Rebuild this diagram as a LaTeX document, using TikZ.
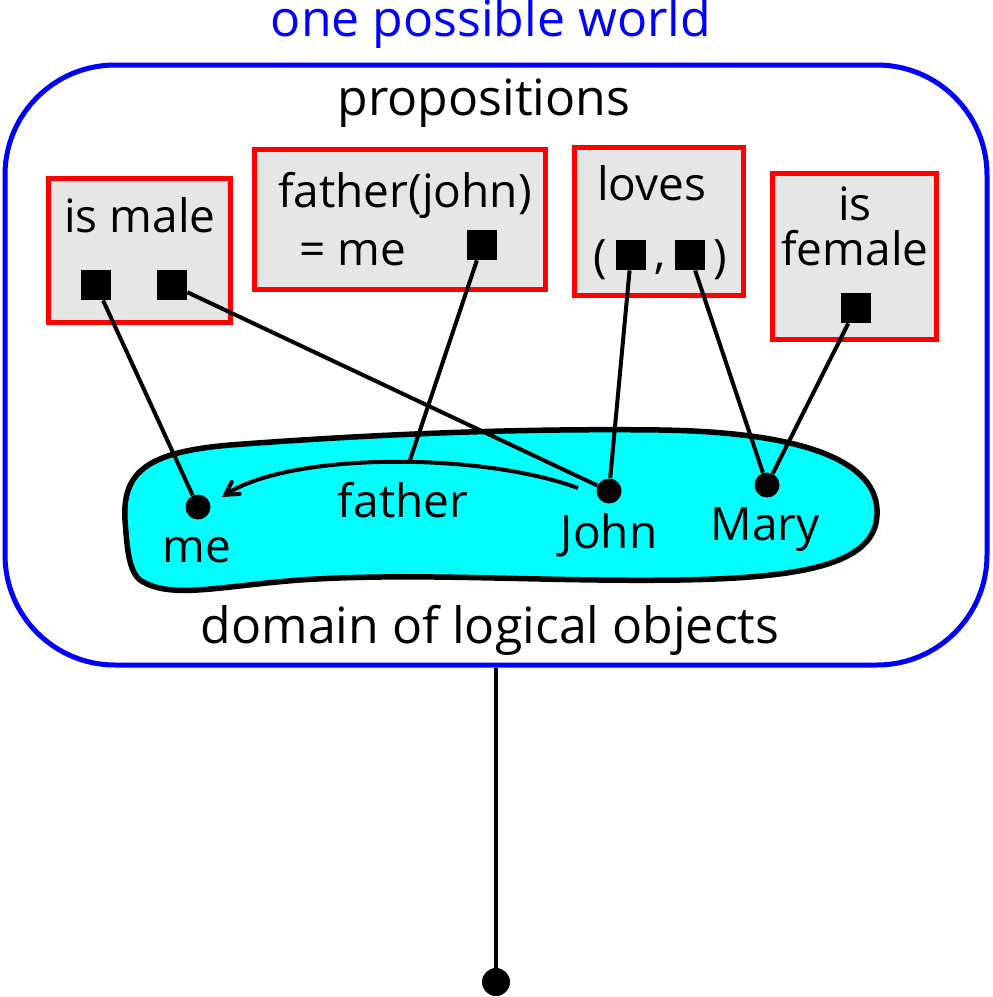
\documentclass[tikz,border=0pt]{standalone}
\usepackage{fontspec}
\setmainfont{Open Sans}
\usepackage{xcolor}
\usetikzlibrary{positioning}
\usetikzlibrary{arrows}
\definecolor{boxgray}{HTML}{E6E6E6}
\definecolor{domaincyan}{RGB}{0,255,255}
\definecolor{worldblue}{RGB}{0,0,255}
\definecolor{propred}{RGB}{255,0,0}

\begin{document}
\begin{tikzpicture}[x=0.5pt,y=-0.5pt]
    \tikzset{world/.style={draw=worldblue,line width=2.5pt,rounded corners=55pt,minimum width=491pt,minimum height=300pt}}
    \tikzset{prop/.style={draw=propred,fill=boxgray,line width=2.5pt,inner sep=0pt}}
    \tikzset{slot/.style={shape=rectangle,fill=black,inner sep=0pt,minimum size=15pt}}
    \tikzset{obj/.style={shape=circle,fill=black,inner sep=0pt,minimum size=12.5pt}}
    \tikzset{txt/.style={anchor=base,inner sep=0pt,font=\fontsize{23}{27}\selectfont}}
    \tikzset{big/.style={txt,font=\fontsize{25}{29}\selectfont}}
    \tikzset{edge/.style={line width=2pt}}
    \tikzset{fun/.style={->,>=angle 60,line width=2pt}}
    \tikzset{blob/.style={draw=black,fill=domaincyan,line width=2.75pt}}
    \useasboundingbox (0,0) rectangle (992,997);

    \node[big,text=worldblue] (title) at (491,36) {one possible world};
    \node[world] (world) at (496,365) {};
    \node[big] (props) at (484,115) {propositions};

    % the proposition boxes
    \node[prop,minimum width=91pt,minimum height=72pt] (male) at (139,250.5) {};
    \node[prop,minimum width=145.5pt,minimum height=70pt] (fj) at (400,219.5) {};
    \node[prop,minimum width=84.5pt,minimum height=74pt] (loves) at (659,221.5) {};
    \node[prop,minimum width=82pt,minimum height=83pt] (female) at (854.5,256.5) {};

    \node[txt] (maletxt) at (140,232) {is male};
    \node[txt] (fjtxt) at (405,207) {father(john)};
    \node[txt] (metxt) at (353,265) {= me};
    \node[txt] (lovestxt) at (652,200) {loves};
    \node[txt] (lp) at (600,272) {(};
    \node[txt] (comma) at (660,268) {,};
    \node[txt] (rp) at (720,272) {)};
    \node[txt] (istxt) at (855,220) {is};
    \node[txt] (femtxt) at (855,265) {female};

    \node[slot] (m1) at (96,285) {};
    \node[slot] (m2) at (172,285) {};
    \node[slot] (f1) at (482,245) {};
    \node[slot] (l1) at (631,255) {};
    \node[slot] (l2) at (690,255) {};
    \node[slot] (w1) at (856,308) {};

    % domain of objects
    \draw[blob] (125,520) .. controls (122,470) and (150,452) .. (230,445)
        .. controls (350,436) and (500,428) .. (660,430)
        .. controls (800,432) and (880,460) .. (877,515)
        .. controls (875,565) and (800,578) .. (680,580)
        .. controls (540,582) and (420,572) .. (300,580)
        .. controls (220,586) and (170,600) .. (140,580)
        .. controls (128,570) and (127,545) .. (125,520) -- cycle;
    \node[big] (domain) at (490,643) {domain of logical objects};

    \node[obj] (me) at (198,507) {};
    \node[obj] (john) at (609,491) {};
    \node[obj] (mary) at (767,485) {};
    \node[txt] (metag) at (197,562) {me};
    \node[txt] (johntag) at (609,548) {John};
    \node[txt] (marytag) at (765,540) {Mary};

    \coordinate (fstart) at (578,488);
    \coordinate (fend) at (222,497);
    \draw[fun] (fstart) .. controls (480,452) and (290,452) .. coordinate[pos=0.45] (fmid) (fend);
    \node[txt] (fathertxt) at (403,517) {father};

    \draw[edge] (m1) -- (me);
    \draw[edge] (m2) -- (john);
    \draw[edge] (f1) -- (fmid);
    \draw[edge] (l1) -- (john);
    \draw[edge] (l2) -- (mary);
    \draw[edge] (w1) -- (mary);

    \node[obj,minimum size=14pt] (root) at (496,982) {};
    \draw[edge] (world.south) -- (root);
\end{tikzpicture}
\end{document}
